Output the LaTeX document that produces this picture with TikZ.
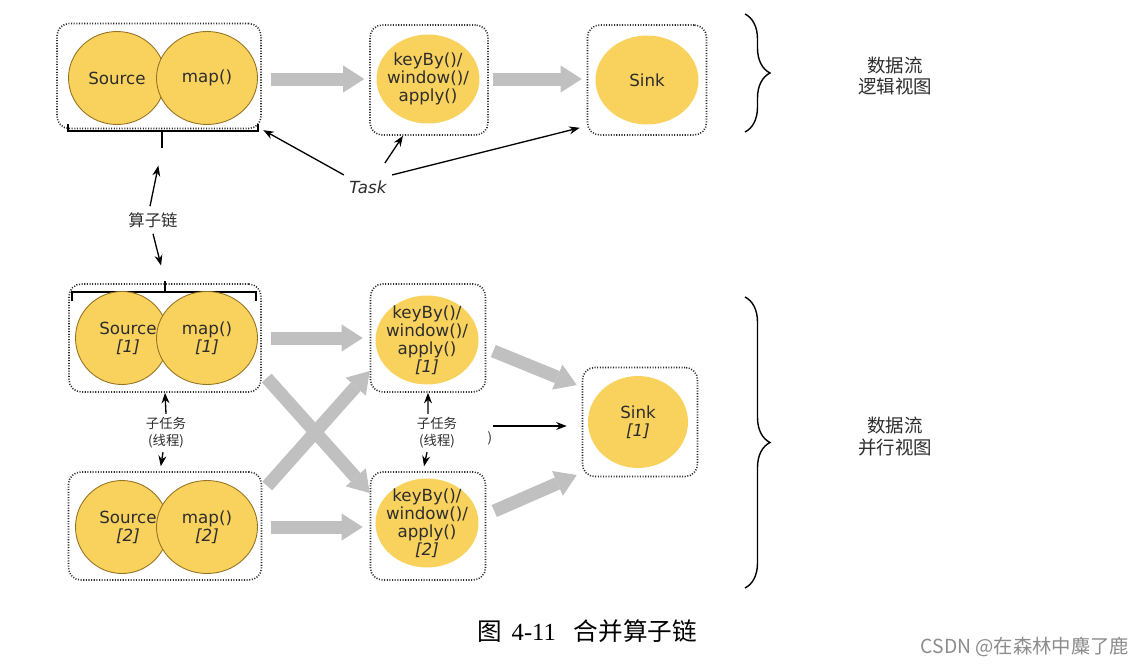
\documentclass[tikz,border=0pt]{standalone}
\usepackage{fontspec}
\setmainfont{DejaVu Sans}
\newfontfamily\cjk{Noto Sans CJK SC}
\newfontfamily\capfont{Liberation Serif}
\usetikzlibrary{arrows.meta,shapes.geometric,decorations.pathreplacing}
\definecolor{blob}{RGB}{249,210,94}
\definecolor{blobline}{RGB}{150,115,35}
\definecolor{flowgray}{RGB}{192,192,192}
\definecolor{ink}{RGB}{45,45,45}
\begin{document}
\begin{tikzpicture}[x=0.02cm,y=-0.02cm,
	box/.style={draw=ink,line width=0.9pt,dash pattern=on 0.6pt off 0.9pt,
		rounded corners=7pt,inner sep=0pt,minimum height=2.16cm},
	chain/.style={ellipse,fill=blob,draw=blobline,line width=0.5pt,
		inner sep=0pt,minimum height=1.86cm},
	op/.style={ellipse,fill=blob,inner sep=0pt,
		minimum width=2.06cm,minimum height=1.78cm},
	txt/.style={align=center,text=ink,inner sep=0pt,
		font=\fontsize{9.5}{10.2}\selectfont},
	flow/.style={draw=flowgray,line width=0.26cm,
		-{Triangle[length=0.42cm,width=0.54cm,line width=0pt]}},
	ptr/.style={draw=black,line width=0.75pt,-{Stealth[length=6pt,width=4.5pt]}},
	bracket/.style={draw=black,line width=0.8pt},
	bigbrace/.style={draw=black,line width=0.8pt,decorate,
		decoration={brace,amplitude=0.5cm}},
	zh/.style={align=center,text=ink,font=\cjk\fontsize{10.5}{12.5}\selectfont},
	sub/.style={align=center,text=ink,inner sep=2pt,
		font=\cjk\fontsize{7.6}{9.6}\selectfont}]
	\path[use as bounding box,fill=white] (0,0) rectangle (1146,667);
	% logical view
	\node [box,minimum width=4.08cm,minimum height=2.1cm] (c0) at (159,76) {};
	\node [chain,minimum width=1.94cm,label={[txt]center:Source}] (s0) at (117,78) {};
	\node [chain,minimum width=2.02cm,label={[txt]center:map()}] (m0) at (207,78) {};
	\node [box,minimum width=2.36cm,minimum height=2.2cm] (b0) at (429,80) {};
	\node [op,label={[txt]center:{keyBy()/\\window()/\\apply()}}] (k0) at (428,79) {};
	\node [box,minimum width=2.38cm,minimum height=2.2cm] (d0) at (647,80) {};
	\node [op,label={[txt]center:Sink}] (t0) at (647,80) {};
	\draw [flow,shorten <=0.18cm,shorten >=0.1cm] (c0.east |- k0) -- (b0.west |- k0);
	\draw [flow,shorten <=0.08cm,shorten >=0.1cm] (b0.east |- k0) -- (d0.west |- k0);
	\node [txt,inner sep=3pt,font=\fontsize{9.5}{10}\selectfont\itshape] (task) at (368,187) {Task};
	\draw [ptr,shorten >=1pt] (task.north west) -- (c0.south east);
	\draw [ptr] ([shift={(17,-12)}]task.north) -- ([shift={(-26,0)}]b0.south);
	\draw [ptr] (task.north east) -- ([shift={(-7,-8)}]d0.south west);
	\draw [bigbrace] (745,14) -- (745,132);
	\node [zh] (v0) at (895,76) {数据流\\逻辑视图};
	% operator chain
	\coordinate (topbr) at (162,148);
	\coordinate (botbr) at (165,281);
	\draw [bracket] (68,124) -- (68,131) -- (258,131) -- (258,124) (162,131) -- (topbr);
	\draw [bracket] (72,301) -- (72,292) -- (256,292) -- (256,301) (165,292) -- (botbr);
	\node [zh,font=\cjk\fontsize{9.3}{11}\selectfont] (lnk) at (153,220) {算子链};
	\draw [ptr,shorten >=0.36cm] ([xshift=-0.06cm]lnk.north) -- (topbr);
	\draw [ptr,shorten >=0.32cm] (lnk.south) -- (botbr);
	% parallel view
	\node [box,minimum width=3.84cm] (c1) at (165,338) {};
	\node [chain,minimum width=1.86cm,label={[txt,xshift=0.12cm]center:{Source\\\itshape[1]}}] (s1) at (122,338) {};
	\node [chain,minimum width=2.02cm,label={[txt]center:{map()\\\itshape[1]}}] (m1) at (207,338) {};
	\node [box,minimum width=3.86cm] (c2) at (165,526) {};
	\node [chain,minimum width=1.86cm,label={[txt,xshift=0.12cm]center:{Source\\\itshape[2]}}] (s2) at (122,527) {};
	\node [chain,minimum width=2.02cm,label={[txt]center:{map()\\\itshape[2]}}] (m2) at (207,527) {};
	\node [box,minimum width=2.3cm] (b1) at (428,338) {};
	\node [op,label={[txt]center:{keyBy()/\\window()/\\apply()\\\itshape[1]}}] (k1) at (427,340) {};
	\node [box,minimum width=2.3cm] (b2) at (428,526) {};
	\node [op,label={[txt]center:{keyBy()/\\window()/\\apply()\\\itshape[2]}}] (k2) at (427,523) {};
	\node [box,minimum width=2.3cm,minimum height=2.18cm] (dF) at (640,422) {};
	\node [op,minimum width=2.0cm,minimum height=1.84cm,label={[txt]center:{Sink\\\itshape[1]}}] (t1) at (638,422) {};
	\draw [flow,shorten <=0.18cm,shorten >=0.14cm] (c1.east |- m1) -- (b1.west |- m1);
	\draw [flow,shorten <=0.18cm,shorten >=0.14cm] (c2.east |- m2) -- (b2.west |- m2);
	\draw [flow] ([shift={(5,40)}]c1.east) -- ([shift={(0,-33)}]b2.west);
	\draw [flow] ([shift={(5,-40)}]c2.east) -- ([shift={(0,33)}]b1.west);
	\draw [flow] ([shift={(7,13)}]b1.east) -- ([shift={(-5,-37)}]dF.west);
	\draw [flow] ([shift={(8,-15)}]b2.east) -- ([shift={(-5,53)}]dF.west);
	\node [sub] (u1) at (166,433) {子任务\\(线程)};
	\draw [ptr] (u1.north) -- (c1.south);
	\draw [ptr,shorten >=0.1cm] ([xshift=-0.06cm]u1.south) -- ([xshift=-0.1cm]c2.north);
	\node [sub] (u2) at (437,433) {子任务\\(线程)};
	\draw [ptr] ([xshift=-0.18cm]u2.north) -- (b1.south);
	\draw [ptr,shorten >=0.1cm] ([xshift=-0.2cm]u2.south) -- ([xshift=-0.1cm]b2.north);
	\coordinate (mid) at (493,426);
	\draw [ptr,shorten >=0.3cm] (mid) -- (dF.west |- mid);
	\node [sub] (par) at (490,438) {)};
	\draw [bigbrace] (745,297) -- (745,588);
	\node [zh] (v1) at (895,437) {数据流\\并行视图};
	% caption and mark
	\node [font=\fontsize{14}{16}\selectfont] (cap) at (587,631)
		{{\cjk 图}\hspace{0.2cm}{\capfont 4-11}\hspace{0.36cm}{\cjk 合并算子链}};
	\node [text=black!45,font=\cjk\fontsize{11}{13}\selectfont] (wm) at (1025,647) {CSDN @在森林中麋了鹿};
\end{tikzpicture}
\end{document}
